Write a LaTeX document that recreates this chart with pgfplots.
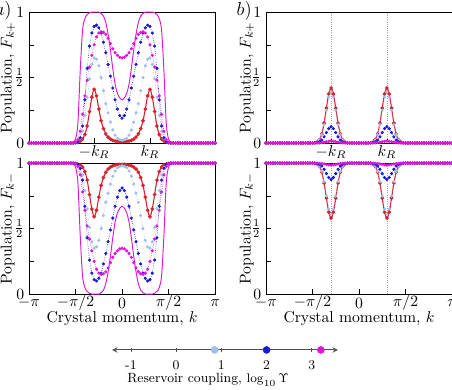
\documentclass[border=0pt]{standalone}
\usepackage{pgfplots}
\pgfplotsset{compat=1.18}
\usepackage{pgfplotstable}
\definecolor{cR}{RGB}{215,35,45}
\definecolor{cL}{RGB}{160,190,235}
\definecolor{cB}{RGB}{25,25,215}
\definecolor{cM}{RGB}{225,20,215}
\definecolor{cG}{RGB}{80,80,80}

\pgfplotstableread{
k aR aL aB aM aS bR bL bB bM
-3.1416 0 0 0 0 0 0 0 0 0
-3.0631 0 0 0 0 0 0 0 0 0
-2.9845 0 0 0 0 0 0 0 0 0
-2.9060 0 0 0 0 0 0 0 0 0
-2.8274 0 0 0 0 0 0 0 0 0
-2.7489 0 0 0 0 0 0 0 0 0
-2.6704 0 0 0 0 0 0 0 0 0
-2.5918 0 0 0 0 0 0 0 0 0
-2.5133 0 0 0 0 0 0 0 0 0
-2.4347 0 0 0 0 0 0 0 0 0
-2.3562 0 0 0 0 0 0 0 0 0
-2.2777 0 0 0 0 0 0 0 0 0
-2.1991 0 0 0 0 0 0 0 0 0
-2.1206 0 0 0 0 0 0 0 0 0
-2.0420 0 0 0 0 0 0 0 0 0
-1.9635 0 0 0 0 0 0 0 0 0
-1.8850 0 0 0 0 0 0 0 0 0
-1.8064 0 0 0 0 0 0 0 0 0
-1.7279 0 0 0 0 0 0 0 0 0
-1.6493 0 0 0 0 0.005 0 0 0 0
-1.5708 0.003 0.004 0.003 0.006 0.03 0 0 0 0
-1.4923 0.007 0.012 0.01 0.025 0.15 0.002 0.002 0.001 0
-1.4137 0.015 0.035 0.04 0.09 0.55 0.007 0.006 0.003 0
-1.3352 0.03 0.09 0.13 0.22 0.86 0.025 0.023 0.009 0.001
-1.2566 0.065 0.21 0.33 0.36 0.95 0.069 0.064 0.022 0.003
-1.1781 0.13 0.35 0.57 0.48 0.98 0.152 0.14 0.047 0.006
-1.0996 0.24 0.49 0.74 0.58 0.995 0.267 0.25 0.08 0.01
-1.0210 0.35 0.60 0.84 0.67 1.0 0.375 0.35 0.11 0.013
-0.9425 0.41 0.65 0.89 0.75 1.0 0.42 0.39 0.125 0.015
-0.8639 0.36 0.64 0.90 0.81 1.0 0.375 0.35 0.11 0.013
-0.7854 0.26 0.59 0.88 0.84 1.0 0.267 0.25 0.08 0.01
-0.7069 0.17 0.50 0.84 0.85 0.99 0.152 0.14 0.047 0.006
-0.6283 0.11 0.40 0.77 0.845 0.97 0.069 0.064 0.022 0.003
-0.5498 0.07 0.30 0.69 0.83 0.92 0.025 0.023 0.009 0.001
-0.4712 0.045 0.23 0.60 0.80 0.83 0.007 0.006 0.003 0
-0.3927 0.03 0.16 0.51 0.76 0.71 0.002 0.002 0.001 0
-0.3142 0.02 0.10 0.42 0.72 0.57 0 0 0 0
-0.2356 0.015 0.06 0.33 0.69 0.45 0 0 0 0
-0.1571 0.012 0.035 0.26 0.67 0.38 0 0 0 0
-0.0785 0.01 0.025 0.21 0.655 0.345 0 0 0 0
0.0000 0.01 0.02 0.19 0.65 0.33 0 0 0 0
0.0785 0.01 0.025 0.21 0.655 0.345 0 0 0 0
0.1571 0.012 0.035 0.26 0.67 0.38 0 0 0 0
0.2356 0.015 0.06 0.33 0.69 0.45 0 0 0 0
0.3142 0.02 0.10 0.42 0.72 0.57 0 0 0 0
0.3927 0.03 0.16 0.51 0.76 0.71 0.002 0.002 0.001 0
0.4712 0.045 0.23 0.60 0.80 0.83 0.007 0.006 0.003 0
0.5498 0.07 0.30 0.69 0.83 0.92 0.025 0.023 0.009 0.001
0.6283 0.11 0.40 0.77 0.845 0.97 0.069 0.064 0.022 0.003
0.7069 0.17 0.50 0.84 0.85 0.99 0.152 0.14 0.047 0.006
0.7854 0.26 0.59 0.88 0.84 1.0 0.267 0.25 0.08 0.01
0.8639 0.36 0.64 0.90 0.81 1.0 0.375 0.35 0.11 0.013
0.9425 0.41 0.65 0.89 0.75 1.0 0.42 0.39 0.125 0.015
1.0210 0.35 0.60 0.84 0.67 1.0 0.375 0.35 0.11 0.013
1.0996 0.24 0.49 0.74 0.58 0.995 0.267 0.25 0.08 0.01
1.1781 0.13 0.35 0.57 0.48 0.98 0.152 0.14 0.047 0.006
1.2566 0.065 0.21 0.33 0.36 0.95 0.069 0.064 0.022 0.003
1.3352 0.03 0.09 0.13 0.22 0.86 0.025 0.023 0.009 0.001
1.4137 0.015 0.035 0.04 0.09 0.55 0.007 0.006 0.003 0
1.4923 0.007 0.012 0.01 0.025 0.15 0.002 0.002 0.001 0
1.5708 0.003 0.004 0.003 0.006 0.03 0 0 0 0
1.6493 0 0 0 0 0.005 0 0 0 0
1.7279 0 0 0 0 0 0 0 0 0
1.8064 0 0 0 0 0 0 0 0 0
1.8850 0 0 0 0 0 0 0 0 0
1.9635 0 0 0 0 0 0 0 0 0
2.0420 0 0 0 0 0 0 0 0 0
2.1206 0 0 0 0 0 0 0 0 0
2.1991 0 0 0 0 0 0 0 0 0
2.2777 0 0 0 0 0 0 0 0 0
2.3562 0 0 0 0 0 0 0 0 0
2.4347 0 0 0 0 0 0 0 0 0
2.5133 0 0 0 0 0 0 0 0 0
2.5918 0 0 0 0 0 0 0 0 0
2.6704 0 0 0 0 0 0 0 0 0
2.7489 0 0 0 0 0 0 0 0 0
2.8274 0 0 0 0 0 0 0 0 0
2.9060 0 0 0 0 0 0 0 0 0
2.9845 0 0 0 0 0 0 0 0 0
3.0631 0 0 0 0 0 0 0 0 0
3.1416 0 0 0 0 0 0 0 0 0
}\data

\pgfplotsset{
  panel/.style={scale only axis, width=118.5pt, height=83.4pt,
    xmin=-3.1416, xmax=3.1416, ymin=0, ymax=1, clip=false,
    tick align=inside, xtick pos=bottom, ytick pos=left,
    ytick={0,0.25,0.5,0.75,1}, yticklabels={$0$,,$\frac12$,,$1$},
    major tick length=3pt, every tick/.style={black, line width=0.4pt},
    axis line style={black, line width=0.5pt},
    tick label style={font=\normalsize},
    xticklabel style={anchor=center, yshift=-5.7pt},
    yticklabel style={xshift=0.5pt}},
  topx/.style={xtick={-0.9425,0.9425}, xticklabels={$-k_R$,$k_R$}},
  botx/.style={xtick={-3.1416,-1.5708,0,1.5708,3.1416},
    xticklabels={$-\pi$,$-\pi/2$,$0$,$\pi/2$,$\pi$},
    xlabel={Crystal momentum, $k$},
    xlabel style={at={(axis description cs:0.5,-0.185)}, anchor=center}},
  sR/.style={cR, solid, line width=0.7pt, mark=*, mark size=0.8pt, smooth},
  sL/.style={cL, densely dotted, line width=0.4pt, mark=*, mark size=0.8pt, mark options={solid}},
  sB/.style={cB, densely dotted, line width=0.4pt, mark=*, mark size=0.8pt, mark options={solid}},
  sM/.style={cM, densely dotted, line width=0.4pt, mark=*, mark size=0.8pt, mark options={solid}},
  sS/.style={cM, solid, line width=0.6pt, no marks, smooth},
  vline/.style={gray!70, densely dotted, line width=0.4pt},
}

\begin{document}
\begin{tikzpicture}
\useasboundingbox (0,0) rectangle (287.9pt,248.4pt);

% panel a, top
\begin{axis}[panel, topx, at={(18.5pt,157.3pt)}, anchor=south west,
  ylabel={Population, $F_{k+}$},
  ylabel style={at={(axis description cs:-0.113,0.5)}, anchor=center}]
\addplot[sR] table[x=k, y=aR] {\data};
\addplot[sL] table[x=k, y=aL] {\data};
\addplot[sB] table[x=k, y=aB] {\data};
\addplot[sM] table[x=k, y=aM] {\data};
\addplot[sS] table[x=k, y=aS] {\data};
\end{axis}

% panel a, bottom
\begin{axis}[panel, botx, at={(18.5pt,61.1pt)}, anchor=south west,
  ylabel={Population, $F_{k-}$},
  ylabel style={at={(axis description cs:-0.113,0.5)}, anchor=center}]
\addplot[sR] table[x=k, y expr=1-\thisrow{aR}] {\data};
\addplot[sL] table[x=k, y expr=1-\thisrow{aL}] {\data};
\addplot[sB] table[x=k, y expr=1-\thisrow{aB}] {\data};
\addplot[sM] table[x=k, y expr=1-\thisrow{aM}] {\data};
\addplot[sS] table[x=k, y expr=1-\thisrow{aS}] {\data};
\end{axis}

% panel b, top
\begin{axis}[panel, topx, at={(169.4pt,157.3pt)}, anchor=south west,
  ylabel={Population, $F_{k+}$},
  ylabel style={at={(axis description cs:-0.102,0.5)}, anchor=center}]
\addplot[vline] coordinates {(-0.9425,0) (-0.9425,1)};
\addplot[vline] coordinates {(0.9425,0) (0.9425,1)};
\addplot[sR] table[x=k, y=bR] {\data};
\addplot[sL] table[x=k, y=bL] {\data};
\addplot[sB] table[x=k, y=bB] {\data};
\addplot[sM] table[x=k, y=bM] {\data};
\addplot[sS] table[x=k, y=bM] {\data};
\end{axis}

% panel b, bottom
\begin{axis}[panel, botx, at={(169.4pt,61.1pt)}, anchor=south west,
  ylabel={Population, $F_{k-}$},
  ylabel style={at={(axis description cs:-0.102,0.5)}, anchor=center}]
\addplot[vline] coordinates {(-0.9425,0) (-0.9425,1)};
\addplot[vline] coordinates {(0.9425,0) (0.9425,1)};
\addplot[sR] table[x=k, y expr=1-\thisrow{bR}] {\data};
\addplot[sL] table[x=k, y expr=1-\thisrow{bL}] {\data};
\addplot[sB] table[x=k, y expr=1-\thisrow{bB}] {\data};
\addplot[sM] table[x=k, y expr=1-\thisrow{bM}] {\data};
\addplot[sS] table[x=k, y expr=1-\thisrow{bM}] {\data};
\end{axis}

% legend number line
\begin{axis}[at={(71.3pt,25.5pt)}, anchor=west, scale only axis,
  width=144pt, height=6pt, xmin=-1.42, xmax=3.58, ymin=-1, ymax=1,
  axis x line=middle, axis y line=none, clip=false,
  hide obscured x ticks=false,
  x axis line style={stealth-stealth, cG, line width=0.6pt},
  xtick={-1,0,1,2,3}, xticklabels={-1,0,1,2,3},
  major tick length=3pt, every tick/.style={cG, line width=0.4pt},
  tick label style={font=\fontsize{8.5}{10}\selectfont},
  xticklabel style={anchor=center, yshift=-8.3pt}]
\addplot[only marks, mark=*, mark size=2.2pt, cL] coordinates {(0.85,0)};
\addplot[only marks, mark=*, mark size=2.2pt, cB] coordinates {(2,0)};
\addplot[only marks, mark=*, mark size=2.2pt, cM] coordinates {(3.2,0)};
\end{axis}

\node[font=\fontsize{8.5}{10}\selectfont] at (132.5pt,6.4pt) {Reservoir coupling, $\log_{10}\Upsilon$};

\node[anchor=east, inner sep=0pt, font=\large] at (7.6pt,241.5pt) {$a)$};
\node[anchor=east, inner sep=0pt, font=\large] at (160.5pt,241.5pt) {$b)$};
\end{tikzpicture}
\end{document}
